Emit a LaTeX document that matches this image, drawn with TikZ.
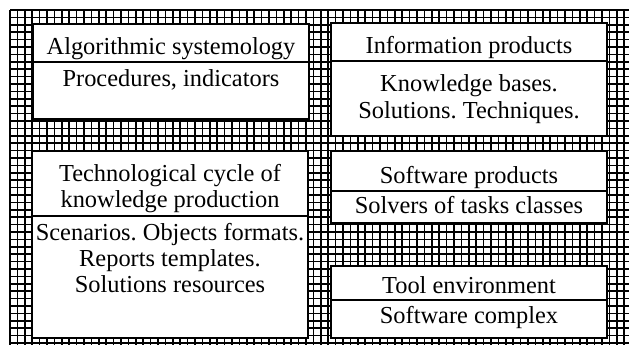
\documentclass[tikz,border=0pt]{standalone}
\usepackage{fontspec}
\setmainfont{Liberation Serif}
\frenchspacing
\begin{document}
\begin{tikzpicture}[x=1pt,y=-1pt,
  gridline/.style={line width=1.7pt,black},
  panel/.style={draw=black,fill=white,line width=2pt},
  divider/.style={draw=black,line width=1.6pt},
  label/.style={anchor=base,inner sep=0pt,font=\fontsize{24.4}{26.5}\selectfont}]
\useasboundingbox (0,0) rectangle (629,345);
\fill[white] (0,0) rectangle (629,345);
% hatched background grid
\begin{scope}
  \clip (9,9) rectangle (629,345);
  \foreach \i in {0,...,84} \draw[gridline] ({10+7.4*\i},10) -- ({10+7.4*\i},345);
  \foreach \j in {0,...,46} \draw[gridline] (10,{10+7.4*\j}) -- (629,{10+7.4*\j});
\end{scope}
% panels
\path[panel] (33,24) rectangle (309,119);
\draw[divider] (33,62) -- (309,62);
\path[panel] (331,23) rectangle (607,136);
\draw[divider] (331,61) -- (607,61);
\path[panel] (32,151) rectangle (308,338);
\draw[divider] (32,216) -- (308,216);
\path[panel] (331,151) rectangle (607,223);
\draw[divider] (331,191) -- (607,191);
\path[panel] (331,266) rectangle (607,338);
\draw[divider] (331,300) -- (607,300);
% texts
\node[label] (a1) at (171,55) {Algorithmic systemology};
\node[label] (a2) at (171,86) {Procedures, indicators};
\node[label] (b1) at (469,54) {Information products};
\node[label] (b2) at (469,92) {Knowledge bases.};
\node[label] (b3) at (469,118) {Solutions. Techniques.};
\node[label] (c1) at (170,181) {Technological cycle of};
\node[label] (c2) at (170,207) {knowledge production};
\node[label] (c3) at (170,240) {Scenarios. Objects formats.};
\node[label] (c4) at (170,266) {Reports templates.};
\node[label] (c5) at (170,292) {Solutions resources};
\node[label] (d1) at (469,183) {Software products};
\node[label] (d2) at (469,213) {Solvers of tasks classes};
\node[label] (e1) at (469,293) {Tool environment};
\node[label] (e2) at (469,323) {Software complex};
\end{tikzpicture}
\end{document}
